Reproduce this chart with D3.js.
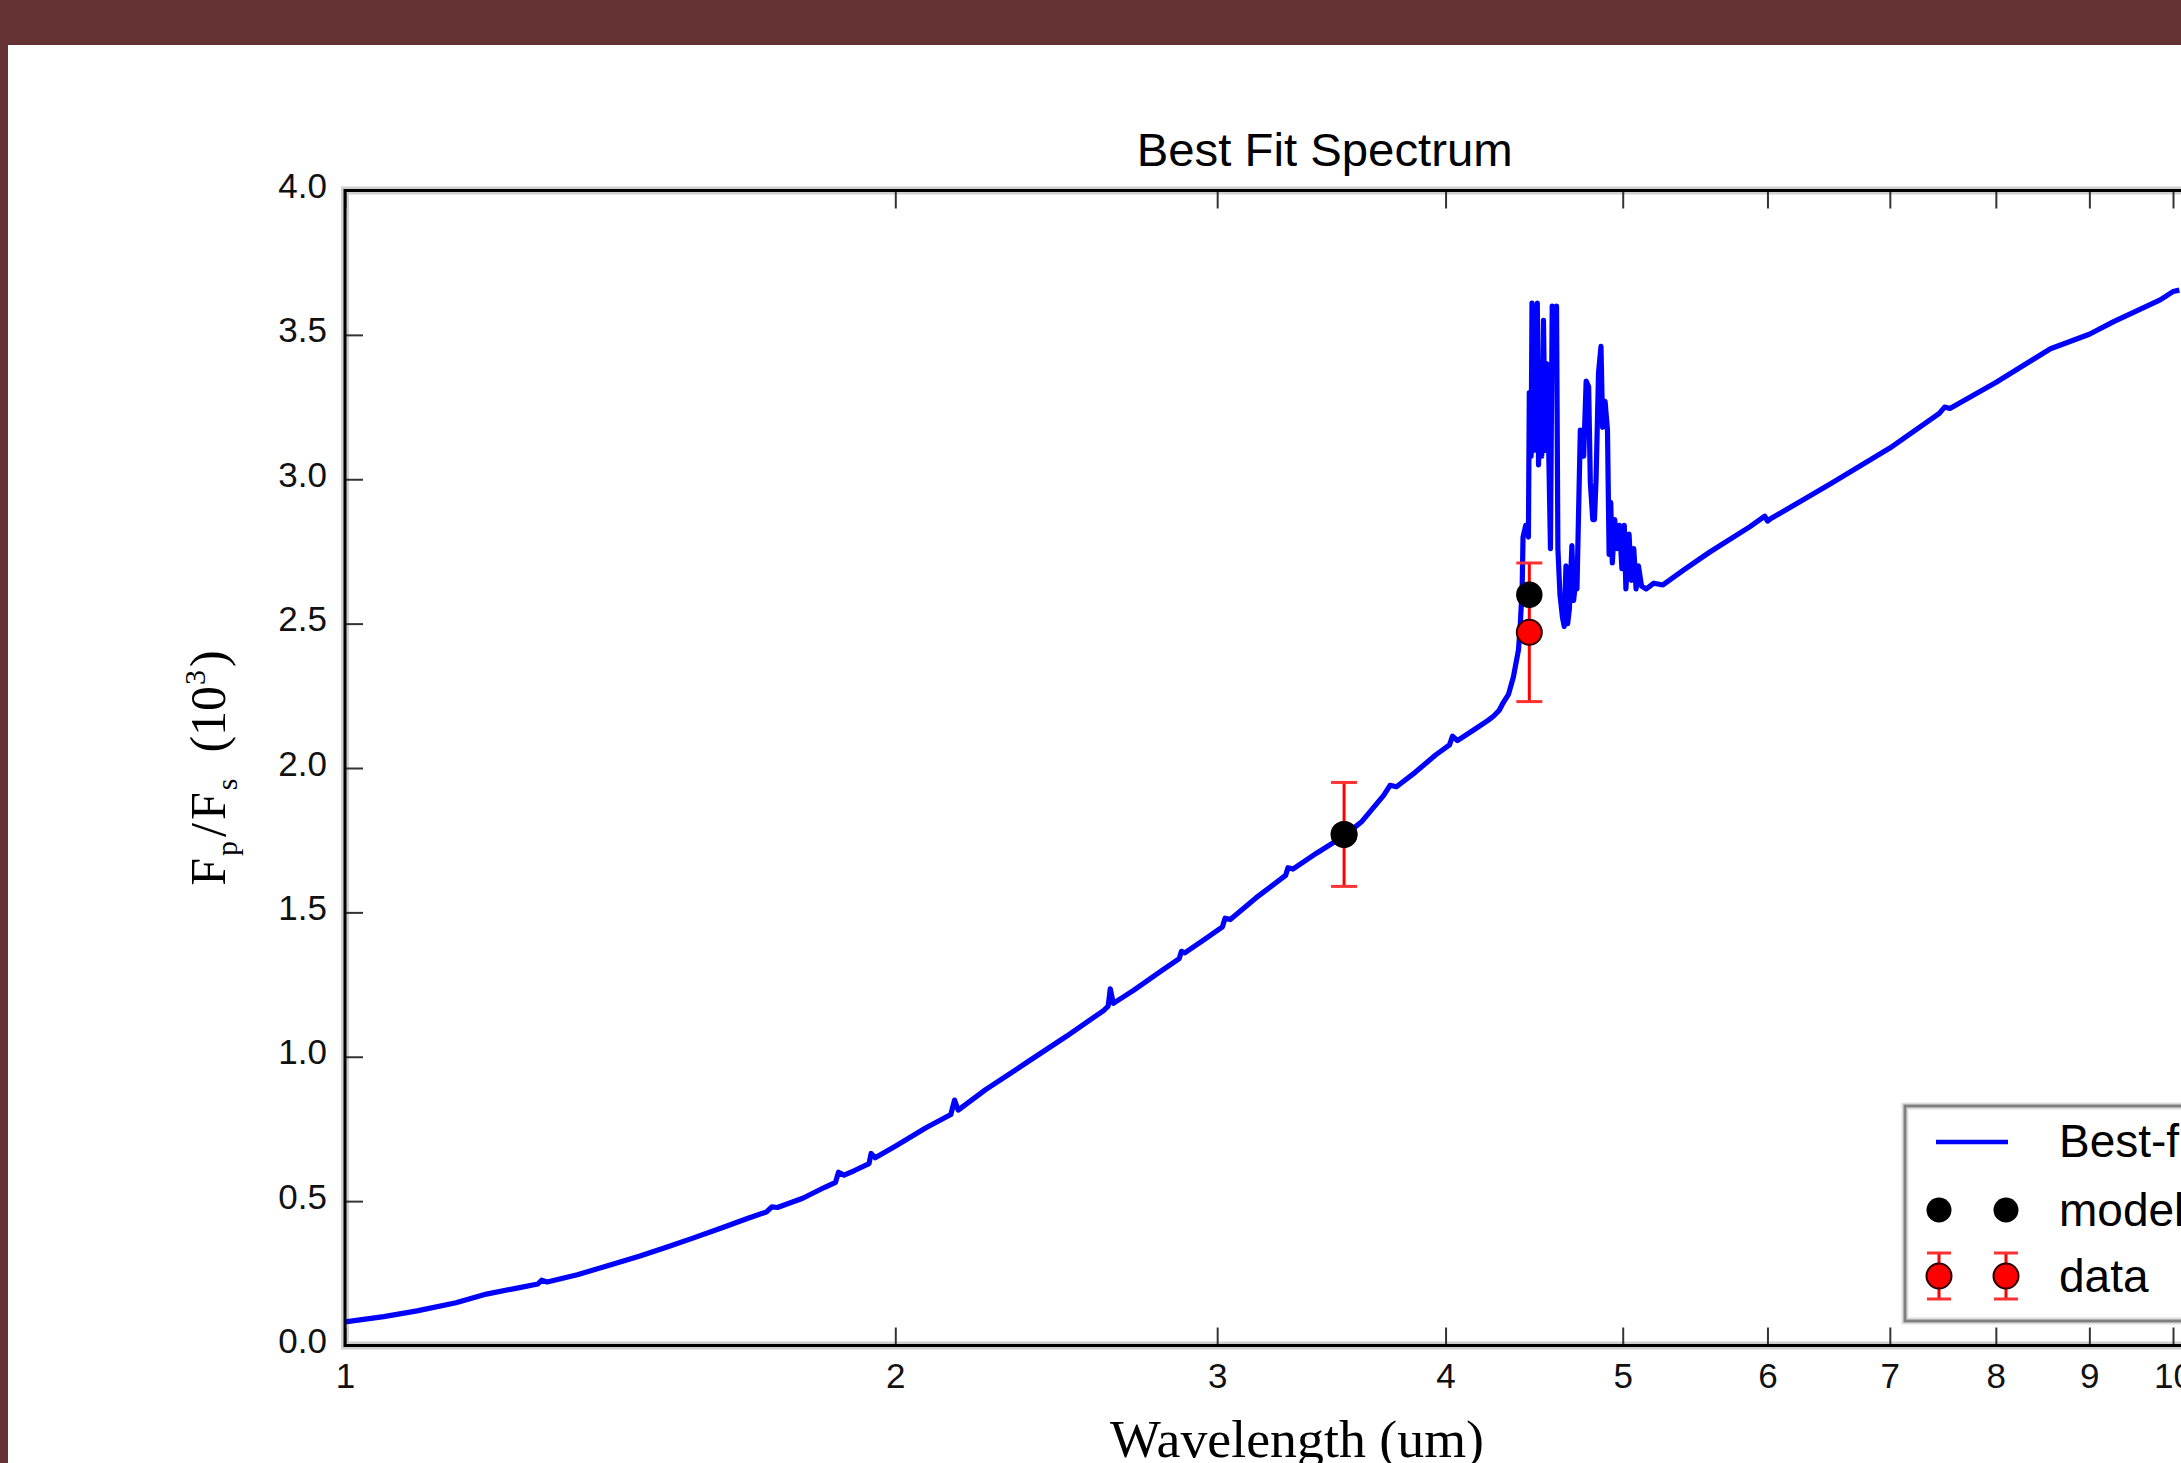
<!DOCTYPE html>
<html>
<head>
<meta charset="utf-8">
<script src="https://cdn.jsdelivr.net/npm/d3@7"></script>
<style>
  html, body { margin: 0; padding: 0; background: #ffffff; overflow: hidden; }
  svg { display: block; }
</style>
</head>
<body>
<svg id="chart" width="2181" height="1463"></svg>
<script>
// ---------------- data ----------------
const wavelengths = [
  1.000, 1.050, 1.095, 1.150, 1.195, 1.240, 1.275, 1.281, 1.290, 1.340,
  1.398, 1.450, 1.499, 1.550, 1.608, 1.660, 1.700, 1.712, 1.724, 1.780,
  1.830, 1.855, 1.862, 1.875, 1.900, 1.935, 1.940, 1.950, 2.000, 2.080,
  2.145, 2.155, 2.165, 2.240, 2.360, 2.480, 2.600, 2.615, 2.622, 2.632,
  2.700, 2.800, 2.860, 2.868, 2.880, 2.950, 3.020, 3.030, 3.050, 3.150,
  3.270, 3.280, 3.300, 3.400, 3.520, 3.600, 3.700, 3.730, 3.760, 3.850,
  3.950, 4.020, 4.035, 4.060, 4.140, 4.220, 4.250, 4.280, 4.300, 4.330,
  4.357, 4.385, 4.395, 4.405, 4.410, 4.425, 4.440, 4.445, 4.455, 4.460,
  4.470, 4.480, 4.490, 4.497, 4.505, 4.515, 4.525, 4.535, 4.545, 4.555,
  4.565, 4.575, 4.590, 4.600, 4.608, 4.620, 4.635, 4.645, 4.655, 4.665,
  4.675, 4.690, 4.700, 4.715, 4.720, 4.740, 4.760, 4.775, 4.790, 4.800,
  4.815, 4.825, 4.835, 4.850, 4.865, 4.875, 4.890, 4.905, 4.915, 4.925,
  4.935, 4.950, 4.965, 4.980, 4.995, 5.010, 5.020, 5.040, 5.055, 5.070,
  5.085, 5.100, 5.120, 5.150, 5.200, 5.260, 5.400, 5.580, 5.870, 5.980,
  6.000, 6.020, 6.500, 7.000, 7.450, 7.500, 7.550, 8.000, 8.570, 9.000,
  9.280, 9.840, 10.000, 10.080
];
const fluxRatio = [
  0.082, 0.100, 0.120, 0.148, 0.178, 0.198, 0.213, 0.226, 0.220, 0.245,
  0.280, 0.310, 0.340, 0.372, 0.408, 0.440, 0.462, 0.480, 0.478, 0.510,
  0.548, 0.565, 0.600, 0.590, 0.606, 0.630, 0.665, 0.650, 0.690, 0.755,
  0.800, 0.850, 0.815, 0.885, 0.980, 1.070, 1.160, 1.175, 1.235, 1.185,
  1.230, 1.300, 1.340, 1.365, 1.360, 1.405, 1.450, 1.480, 1.475, 1.550,
  1.628, 1.655, 1.650, 1.705, 1.765, 1.815, 1.905, 1.940, 1.935, 1.985,
  2.045, 2.080, 2.110, 2.095, 2.130, 2.165, 2.180, 2.200, 2.225, 2.255,
  2.316, 2.410, 2.500, 2.620, 2.800, 2.840, 2.800, 3.300, 3.080, 3.610,
  3.100, 3.400, 3.610, 3.050, 3.300, 3.080, 3.550, 3.100, 3.400, 3.100,
  2.760, 3.600, 3.550, 3.600, 2.760, 2.600, 2.520, 2.490, 2.700, 2.500,
  2.550, 2.770, 2.580, 2.660, 2.620, 3.170, 3.080, 3.340, 3.320, 2.990,
  2.860, 2.860, 3.000, 3.370, 3.460, 3.180, 3.270, 3.170, 2.740, 2.920,
  2.710, 2.860, 2.760, 2.840, 2.690, 2.840, 2.620, 2.810, 2.650, 2.760,
  2.620, 2.700, 2.630, 2.620, 2.640, 2.634, 2.686, 2.748, 2.836, 2.872,
  2.855, 2.862, 2.985, 3.108, 3.228, 3.250, 3.245, 3.335, 3.452, 3.502,
  3.546, 3.621, 3.650, 3.655
];
const obsWavelength = [3.52, 4.445];
const obsValue      = [1.77, 2.47];
const obsError      = [0.18, 0.24];
const modelValue    = [1.77, 2.60];

const xTicks = [1, 2, 3, 4, 5, 6, 7, 8, 9, 10];
const yTicks = [0.0, 0.5, 1.0, 1.5, 2.0, 2.5, 3.0, 3.5, 4.0];
const legendLabels = ["Best-fit", "model", "data"];
const titleText = "Best Fit Spectrum";

// ---------------- layout ----------------
const svg = d3.select("#chart");
const W = 2181, H = 1463;
const pL = 345, pT = 190.5, pB = 1345.5;
const decade = 1828;
const x = d3.scaleLog().domain([1, 10]).range([pL, pL + decade]);
const xMax = 11.8;
const pR = x(xMax);
const y = d3.scaleLinear().domain([0, 4]).range([pB, pT]);

svg.append("rect").attr("x", 0).attr("y", 0).attr("width", W).attr("height", H).attr("fill", "#ffffff");

// maroon frame (top band and left band)
svg.append("rect").attr("x", 0).attr("y", 0).attr("width", W).attr("height", 45).attr("fill", "#643232");
svg.append("rect").attr("x", 0).attr("y", 0).attr("width", 8).attr("height", H).attr("fill", "#643232");

// title
svg.append("text")
  .attr("x", (pL + pR) / 2).attr("y", 166)
  .attr("text-anchor", "middle")
  .attr("font-family", "Liberation Sans, Arial, sans-serif")
  .attr("font-size", 46)
  .attr("textLength", 376).attr("lengthAdjust", "spacingAndGlyphs")
  .attr("fill", "#000")
  .text(titleText);

// clip
svg.append("clipPath").attr("id", "plotclip")
  .append("rect").attr("x", pL).attr("y", pT).attr("width", pR - pL).attr("height", pB - pT);

// spines halo
svg.append("rect")
  .attr("x", pL).attr("y", pT).attr("width", pR - pL).attr("height", pB - pT)
  .attr("fill", "none").attr("stroke", "#cfcfcf").attr("stroke-width", 8);

// axes ticks
const xAxisBottom = d3.axisBottom(x).tickValues(xTicks).tickFormat(d3.format("d"))
  .tickSizeInner(-18).tickSizeOuter(0).tickPadding(0);
const gxb = svg.append("g").attr("transform", `translate(0,${pB})`).call(xAxisBottom);
gxb.select(".domain").remove();
gxb.selectAll(".tick line").attr("stroke", "#333").attr("stroke-width", 2);
gxb.selectAll(".tick text")
  .attr("y", 42).attr("dy", null)
  .attr("font-family", "Liberation Sans, Arial, sans-serif")
  .attr("font-size", 35).attr("fill", "#111");

const xAxisTop = d3.axisTop(x).tickValues(xTicks).tickFormat("")
  .tickSizeInner(-18).tickSizeOuter(0);
const gxt = svg.append("g").attr("transform", `translate(0,${pT})`).call(xAxisTop);
gxt.select(".domain").remove();
gxt.selectAll(".tick line").attr("stroke", "#333").attr("stroke-width", 2);

const yAxisLeft = d3.axisLeft(y).tickValues(yTicks).tickFormat(d3.format(".1f"))
  .tickSizeInner(-18).tickSizeOuter(0).tickPadding(18);
const gyl = svg.append("g").attr("transform", `translate(${pL},0)`).call(yAxisLeft);
gyl.select(".domain").remove();
gyl.selectAll(".tick line").attr("stroke", "#333").attr("stroke-width", 2);
gyl.selectAll(".tick text")
  .attr("dy", null).attr("y", 7)
  .attr("font-family", "Liberation Sans, Arial, sans-serif")
  .attr("font-size", 35).attr("fill", "#111");

const yAxisRight = d3.axisRight(y).tickValues(yTicks).tickFormat("")
  .tickSizeInner(-18).tickSizeOuter(0);
const gyr = svg.append("g").attr("transform", `translate(${pR},0)`).call(yAxisRight);
gyr.select(".domain").remove();
gyr.selectAll(".tick line").attr("stroke", "#333").attr("stroke-width", 2);

// spectrum line
const spectrum = wavelengths.map((w, i) => [w, fluxRatio[i]]);
const line = d3.line().x(d => x(d[0])).y(d => y(d[1]));
svg.append("path")
  .datum(spectrum)
  .attr("clip-path", "url(#plotclip)")
  .attr("d", line)
  .attr("fill", "none")
  .attr("stroke", "#0000ff")
  .attr("stroke-width", 5.2)
  .attr("stroke-linejoin", "round");

// error bars (data)
const obs = obsWavelength.map((w, i) => ({ w, v: obsValue[i], e: obsError[i], m: modelValue[i] }));
const eb = svg.append("g").attr("clip-path", "url(#plotclip)");
obs.forEach(d => {
  const cx = x(d.w);
  eb.append("line").attr("x1", cx).attr("x2", cx).attr("y1", y(d.v - d.e)).attr("y2", y(d.v + d.e))
    .attr("stroke", "#ff0000").attr("stroke-width", 3);
  [d.v - d.e, d.v + d.e].forEach(v => {
    eb.append("line").attr("x1", cx - 13).attr("x2", cx + 13).attr("y1", y(v)).attr("y2", y(v))
      .attr("stroke", "#ff3030").attr("stroke-width", 3);
  });
});
eb.selectAll("circle.data").data(obs).enter().append("circle").attr("class", "data")
  .attr("cx", d => x(d.w)).attr("cy", d => y(d.v)).attr("r", 12.5)
  .attr("fill", "#ff0000").attr("stroke", "#2a0000").attr("stroke-width", 2);
eb.selectAll("circle.model").data(obs).enter().append("circle").attr("class", "model")
  .attr("cx", d => x(d.w)).attr("cy", d => y(d.m)).attr("r", 12.5)
  .attr("fill", "#000000").attr("stroke", "#000").attr("stroke-width", 1.5);

// spines
svg.append("rect")
  .attr("x", pL).attr("y", pT).attr("width", pR - pL).attr("height", pB - pT)
  .attr("fill", "none").attr("stroke", "#000").attr("stroke-width", 3);

// legend
const lg = svg.append("g");
lg.append("rect").attr("x", 1905).attr("y", 1106).attr("width", 400).attr("height", 215)
  .attr("fill", "#ffffff").attr("stroke", "#dddddd").attr("stroke-width", 7);
lg.append("rect").attr("x", 1905).attr("y", 1106).attr("width", 400).attr("height", 215)
  .attr("fill", "none").attr("stroke", "#808080").attr("stroke-width", 3);
lg.append("line").attr("x1", 1936).attr("x2", 2008).attr("y1", 1142).attr("y2", 1142)
  .attr("stroke", "#0000ff").attr("stroke-width", 4.5);
[1939, 2006].forEach(cx => {
  lg.append("circle").attr("cx", cx).attr("cy", 1210).attr("r", 12.5).attr("fill", "#000");
  lg.append("line").attr("x1", cx).attr("x2", cx).attr("y1", 1253).attr("y2", 1299)
    .attr("stroke", "#ff0000").attr("stroke-width", 3);
  [1253, 1299].forEach(yy => lg.append("line").attr("x1", cx - 12).attr("x2", cx + 12)
    .attr("y1", yy).attr("y2", yy).attr("stroke", "#ff3030").attr("stroke-width", 3));
  lg.append("circle").attr("cx", cx).attr("cy", 1276).attr("r", 12.5)
    .attr("fill", "#ff0000").attr("stroke", "#2a0000").attr("stroke-width", 2);
});
const legendY = [1157, 1226, 1292];
legendLabels.forEach((t, i) => {
  lg.append("text").attr("x", 2059).attr("y", legendY[i])
    .attr("font-family", "Liberation Sans, Arial, sans-serif")
    .attr("font-size", 46).attr("fill", "#000").text(t);
});

// x axis label
svg.append("text")
  .attr("x", 1297).attr("y", 1457)
  .attr("text-anchor", "middle")
  .attr("font-family", "Liberation Serif, DejaVu Serif, serif")
  .attr("font-size", 52).attr("fill", "#000")
  .attr("textLength", 374).attr("lengthAdjust", "spacingAndGlyphs")
  .text("Wavelength (um)");

// y axis label
const yl = svg.append("text")
  .attr("transform", `translate(225, ${(pT + pB) / 2}) rotate(-90)`)
  .attr("text-anchor", "middle")
  .attr("font-family", "Liberation Serif, DejaVu Serif, serif")
  .attr("font-size", 50).attr("fill", "#000");
yl.append("tspan").text("F");
yl.append("tspan").attr("font-size", 30).attr("dy", 12).attr("dx", 2).text("p");
yl.append("tspan").attr("dy", -12).attr("dx", 4).text("/");
yl.append("tspan").attr("dx", 3).text("F");
yl.append("tspan").attr("font-size", 30).attr("dy", 12).attr("dx", 2).text("s");
yl.append("tspan").attr("dy", -12).attr("dx", 26).text("(10");
yl.append("tspan").attr("font-size", 30).attr("dy", -20).attr("dx", 1).text("3");
yl.append("tspan").attr("dy", 20).attr("dx", 3).text(")");
</script>
</body>
</html>
